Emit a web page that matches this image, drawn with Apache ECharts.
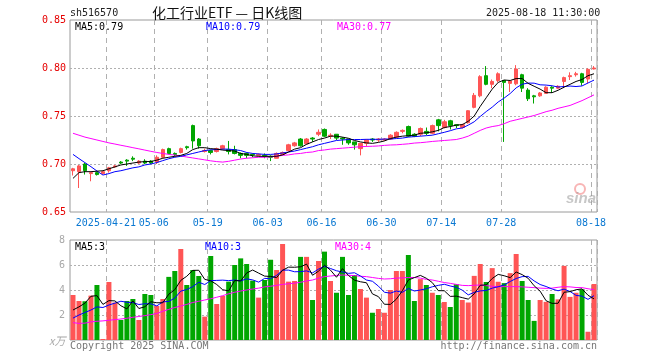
<!DOCTYPE html>
<html><head><meta charset="utf-8">
<script src="https://cdn.jsdelivr.net/npm/echarts@6/dist/echarts.min.js"></script>
<style>html,body{margin:0;padding:0;background:#fff}#c{width:660px;height:360px}</style>
</head><body><div id="c"></div>
<script>
const dates = [
'2025-04-11','2025-04-14','2025-04-15','2025-04-16','2025-04-17','2025-04-18','2025-04-21','2025-04-22','2025-04-23','2025-04-24',
'2025-04-25','2025-04-28','2025-04-29','2025-04-30','2025-05-06','2025-05-07','2025-05-08','2025-05-09','2025-05-12','2025-05-13',
'2025-05-14','2025-05-15','2025-05-16','2025-05-19','2025-05-20','2025-05-21','2025-05-22','2025-05-23','2025-05-26','2025-05-27',
'2025-05-28','2025-05-29','2025-05-30','2025-06-03','2025-06-04','2025-06-05','2025-06-06','2025-06-09','2025-06-10','2025-06-11',
'2025-06-12','2025-06-13','2025-06-16','2025-06-17','2025-06-18','2025-06-19','2025-06-20','2025-06-23','2025-06-24','2025-06-25',
'2025-06-26','2025-06-27','2025-06-30','2025-07-01','2025-07-02','2025-07-03','2025-07-04','2025-07-07','2025-07-08','2025-07-09',
'2025-07-10','2025-07-11','2025-07-14','2025-07-15','2025-07-16','2025-07-17','2025-07-18','2025-07-21','2025-07-22','2025-07-23',
'2025-07-24','2025-07-25','2025-07-28','2025-07-29','2025-07-30','2025-07-31','2025-08-01','2025-08-04','2025-08-05','2025-08-06',
'2025-08-07','2025-08-08','2025-08-11','2025-08-12','2025-08-13','2025-08-14','2025-08-15','2025-08-18'];

const opens = [
0.693,0.692,0.700,0.690,0.691,0.690,0.693,0.697,0.702,0.704,
0.706,0.701,0.703,0.703,0.702,0.707,0.716,0.711,0.712,0.718,
0.740,0.726,0.713,0.714,0.713,0.716,0.715,0.715,0.711,0.711,
0.710,0.709,0.709,0.708,0.706,0.710,0.714,0.719,0.726,0.721,
0.727,0.731,0.736,0.729,0.731,0.727,0.726,0.723,0.716,0.7215,
0.726,0.725,0.725,0.726,0.728,0.734,0.739,0.731,0.731,0.734,
0.732,0.746,0.738,0.745,0.741,0.738,0.743,0.759,0.771,0.792,
0.783,0.787,0.787,0.784,0.7835,0.793,0.777,0.771,0.771,0.7736,
0.780,0.779,0.786,0.791,0.793,0.794,0.7885,0.799];
const closes = [
0.695,0.698,0.693,0.691,0.689,0.692,0.696,0.698,0.701,0.703,
0.705,0.703,0.701,0.701,0.707,0.715,0.711,0.710,0.716,0.717,
0.724,0.719,0.714,0.712,0.716,0.719,0.713,0.711,0.709,0.709,
0.7095,0.710,0.708,0.707,0.711,0.712,0.720,0.722,0.719,0.726,
0.726,0.733,0.729,0.730,0.727,0.726,0.722,0.720,0.7215,0.725,
0.725,0.726,0.726,0.730,0.733,0.735,0.729,0.729,0.737,0.732,
0.740,0.740,0.744,0.740,0.740,0.741,0.7555,0.7715,0.791,0.783,
0.786,0.794,0.785,0.7865,0.799,0.779,0.768,0.770,0.774,0.780,
0.779,0.781,0.790,0.792,0.794,0.785,0.7986,0.800];
const lows = [
0.688,0.675,0.689,0.682,0.688,0.689,0.691,0.696,0.700,0.698,
0.703,0.700,0.700,0.700,0.700,0.706,0.710,0.708,0.711,0.715,
0.716,0.716,0.712,0.710,0.712,0.715,0.710,0.710,0.706,0.706,
0.707,0.708,0.706,0.703,0.706,0.709,0.713,0.718,0.718,0.720,
0.723,0.729,0.728,0.726,0.725,0.720,0.720,0.715,0.709,0.718,
0.723,0.723,0.724,0.725,0.727,0.732,0.728,0.728,0.729,0.730,
0.731,0.734,0.737,0.736,0.7375,0.737,0.742,0.758,0.7695,0.782,
0.779,0.785,0.723,0.775,0.782,0.775,0.7656,0.763,0.770,0.773,
0.774,0.778,0.779,0.7875,0.791,0.7816,0.784,0.7985];
const highs = [
0.696,0.699,0.701,0.691,0.692,0.693,0.697,0.699,0.703,0.705,
0.708,0.704,0.705,0.704,0.709,0.716,0.717,0.712,0.717,0.719,
0.741,0.727,0.716,0.715,0.717,0.720,0.724,0.719,0.712,0.712,
0.711,0.711,0.711,0.709,0.712,0.713,0.721,0.723,0.727,0.727,
0.728,0.736,0.737,0.732,0.731,0.728,0.726,0.723,0.722,0.726,
0.727,0.727,0.727,0.731,0.734,0.736,0.740,0.732,0.738,0.738,
0.741,0.747,0.746,0.746,0.741,0.742,0.756,0.774,0.7925,0.802,
0.788,0.7955,0.787,0.787,0.803,0.794,0.779,0.772,0.775,0.781,
0.781,0.782,0.791,0.7955,0.796,0.795,0.7997,0.802];

const ma5 = [
0.685,0.691,0.692,0.692,0.6925,0.693,0.695,0.697,0.699,0.700,
0.701,0.702,0.7025,0.7026,0.704,0.706,0.707,0.708,0.709,0.711,
0.715,0.717,0.717,0.716,0.7155,0.7145,0.714,0.7135,0.711,0.710,
0.7085,0.708,0.708,0.708,0.708,0.7095,0.7125,0.7155,0.717,0.7205,
0.723,0.7255,0.727,0.729,0.729,0.728,0.7268,0.7245,0.723,0.722,
0.7215,0.7225,0.724,0.7265,0.728,0.729,0.7295,0.730,0.732,0.7325,
0.7335,0.735,0.738,0.739,0.7405,0.741,0.7445,0.750,0.760,0.769,
0.778,0.785,0.7875,0.787,0.789,0.789,0.784,0.781,0.778,0.7743,
0.7743,0.7768,0.780,0.783,0.786,0.788,0.792,0.794];
const ma10 = [
0.710,0.7056,0.7014,0.6972,0.6927,0.6885,0.690,0.692,0.693,0.6945,
0.696,0.697,0.699,0.700,0.7015,0.7035,0.7055,0.707,0.708,0.7095,
0.711,0.7125,0.714,0.7148,0.715,0.7155,0.7155,0.7148,0.714,0.712,
0.711,0.7105,0.710,0.710,0.7105,0.7115,0.7125,0.7135,0.715,0.7165,
0.718,0.720,0.7215,0.723,0.7245,0.725,0.7255,0.7255,0.7255,0.7257,
0.7257,0.7257,0.726,0.726,0.7265,0.727,0.728,0.7285,0.729,0.7295,
0.730,0.7315,0.733,0.7347,0.7366,0.7375,0.7405,0.744,0.7495,0.7546,
0.7592,0.7646,0.7687,0.7734,0.7793,0.7831,0.7843,0.7842,0.7825,0.7822,
0.7815,0.7802,0.7807,0.7812,0.7807,0.7813,0.7844,0.7874];
const ma30 = [
0.732,0.730,0.728,0.7265,0.725,0.7235,0.722,0.7208,0.7195,0.7183,
0.717,0.7158,0.7145,0.7132,0.712,0.711,0.710,0.7093,0.7083,0.7073,
0.7063,0.7053,0.7043,0.7033,0.7025,0.702,0.7028,0.704,0.7052,0.706,
0.7065,0.707,0.707,0.7075,0.708,0.709,0.7095,0.7105,0.711,0.712,
0.7125,0.714,0.7146,0.7155,0.716,0.7165,0.717,0.7175,0.718,0.7183,
0.7185,0.7188,0.7194,0.7198,0.720,0.7205,0.721,0.7218,0.7222,0.7228,
0.7235,0.724,0.7245,0.725,0.7255,0.727,0.729,0.732,0.735,0.7375,
0.739,0.740,0.742,0.7445,0.746,0.7475,0.749,0.7505,0.7525,0.7545,
0.756,0.758,0.7595,0.761,0.7635,0.766,0.769,0.772];

const volumes = [
3.6,3.12,3.1,3.55,4.4,0.08,4.64,3.0,1.6,3.12,
3.28,1.6,3.68,3.6,2.72,3.28,5.05,5.52,7.28,4.4,
5.6,5.12,1.87,6.72,2.88,3.52,4.67,6.0,6.53,6.08,
4.75,3.39,4.8,6.42,5.6,7.68,4.67,4.72,6.65,6.65,
3.2,6.32,7.07,4.72,3.78,6.65,3.6,5.2,4.08,3.39,
2.18,2.48,2.18,4.0,5.52,5.52,6.8,3.12,4.87,4.4,
3.78,3.6,3.04,2.64,4.47,3.2,3.0,5.13,6.08,4.64,
5.75,4.66,4.55,5.35,6.88,4.72,3.2,1.53,3.2,3.05,
3.68,3.25,5.93,3.45,3.78,4.06,0.66,4.48];
const volMa5 = [
2.4,2.65,2.95,3.5,3.55,2.85,3.15,3.13,2.74,2.49,
3.13,2.52,2.66,3.06,2.98,2.98,3.67,4.03,4.77,5.1,
5.57,5.58,4.85,4.74,4.44,4.02,3.93,4.76,4.72,5.36,
5.6,5.35,5.11,5.09,4.99,5.58,5.83,5.82,5.86,6.07,
5.18,5.51,5.98,5.59,5.02,5.71,5.16,4.79,4.66,4.58,
3.69,3.47,2.86,2.85,3.27,3.94,4.8,4.99,5.17,4.94,
4.59,3.95,3.94,3.49,3.51,3.39,3.27,3.69,4.38,4.41,
4.92,5.25,5.14,4.99,5.44,5.23,4.94,4.34,3.91,3.14,
2.93,2.94,3.82,3.87,4.02,4.09,3.58,3.29];
const volMa10 = [
1.75,2.0,2.2,2.4,2.65,2.6,2.8,2.95,3.1,3.02,
2.99,2.84,2.90,2.90,2.73,3.05,3.09,3.35,3.91,4.04,
4.27,4.62,4.44,4.75,4.77,4.79,4.75,4.80,4.73,4.89,
4.81,4.63,4.93,4.90,5.17,5.59,5.59,5.46,5.47,5.53,
5.37,5.67,5.89,5.72,5.54,5.44,5.33,5.38,5.12,4.80,
4.70,4.31,3.82,3.75,3.92,3.81,4.13,3.92,4.00,4.10,
4.26,4.37,4.46,4.32,4.22,3.99,3.61,3.81,3.93,3.96,
4.15,4.26,4.41,4.68,4.92,5.07,5.09,4.73,4.44,4.28,
4.08,3.94,4.07,3.88,3.57,3.51,3.25,3.55];
const volMa30 = [
1.39,1.33,1.35,1.45,1.5,1.53,1.58,1.63,1.68,1.74,
1.82,1.88,1.95,2.03,2.12,2.3,2.45,2.6,2.72,2.85,
3.0,3.1,3.2,3.3,3.42,3.55,3.7,3.82,3.92,4.0,
4.08,4.15,4.25,4.3,4.37,4.45,4.5,4.55,4.62,4.72,
4.8,4.95,5.07,5.12,5.17,5.2,5.18,5.15,5.1,5.07,
5.0,4.93,4.88,4.9,4.95,4.97,5.0,5.0,4.95,4.85,
4.8,4.7,4.6,4.53,4.45,4.37,4.35,4.38,4.4,4.35,
4.3,4.27,4.27,4.27,4.27,4.25,4.22,4.19,4.15,4.13,
4.15,4.22,4.27,4.25,4.2,4.19,4.1,4.03];

const tickDates = ['2025-04-21','2025-05-06','2025-05-19','2025-06-03','2025-06-16','2025-06-30','2025-07-14','2025-07-28','2025-08-18'];
const tickLabels = ['2025-04-21','05-06','05-19','06-03','06-16','06-30','07-14','07-28','08-18'];
const priceTicks = [0.65, 0.70, 0.75, 0.80, 0.85];
const volTicks = [0, 2, 4, 6, 8];

const UP = '#ff5555', DOWN = '#00a600';
const MONO = '"DejaVu Sans Mono", monospace';
const tickIdx = tickDates.map(d => dates.indexOf(d));
const labelOf = {};
tickDates.forEach((d, k) => { labelOf[d] = tickLabels[k]; });
const isTick = (i) => tickIdx.indexOf(i) >= 0;

const candleData = dates.map((d, i) => [opens[i], closes[i], lows[i], highs[i]]);
const volData = volumes.map((v, i) => ({
  value: v,
  itemStyle: { color: closes[i] >= opens[i] ? UP : DOWN }
}));

const gridCommon = { left: 70, width: 527, show: true, borderColor: '#9a9a9a', borderWidth: 1, backgroundColor: 'transparent' };
const vSplit = { show: true, interval: (i) => isTick(i), lineStyle: { color: '#b0b0b0', type: [5, 4], width: 1 } };

function line(name, data, color, xi, yi) {
  return { name, type: 'line', data, xAxisIndex: xi, yAxisIndex: yi, showSymbol: false, symbol: 'none',
    silent: true, z: 5, lineStyle: { color, width: 1 }, itemStyle: { color } };
}
function txt(x, y, text, color, extra) {
  return Object.assign({ type: 'text', x, y, style: Object.assign({ text, fill: color, font: '10px ' + MONO, textVerticalAlign: 'middle' }, extra || {}) , z: 100 });
}

const chart = echarts.init(document.getElementById('c'), null, { renderer: 'canvas' });
chart.setOption({
  animation: false,
  backgroundColor: '#fff',
  grid: [
    Object.assign({ top: 20, height: 192 }, gridCommon),
    Object.assign({ top: 240, height: 100 }, gridCommon)
  ],
  xAxis: [
    { type: 'category', gridIndex: 0, data: dates, boundaryGap: true,
      axisLine: { show: false }, axisTick: { show: false },
      axisLabel: { interval: (i) => isTick(i), formatter: (v) => labelOf[v] || '', color: '#0a78d2',
        fontFamily: MONO, fontSize: 10, margin: 6, padding: [0, 6, 0, 0] },
      splitLine: vSplit },
    { type: 'category', gridIndex: 1, data: dates, boundaryGap: true,
      axisLine: { show: false }, axisTick: { show: false }, axisLabel: { show: false },
      splitLine: vSplit }
  ],
  yAxis: [
    { type: 'value', gridIndex: 0, min: priceTicks[0], max: priceTicks[priceTicks.length - 1], interval: 0.05,
      axisLine: { show: false }, axisTick: { show: false },
      axisLabel: { color: '#e60000', fontFamily: MONO, fontSize: 10, margin: 4, formatter: (v) => v.toFixed(2) },
      splitLine: { show: true, showMinLine: false, showMaxLine: false, lineStyle: { color: '#b0b0b0', type: [2, 2] } } },
    { type: 'value', gridIndex: 1, min: volTicks[0], max: volTicks[volTicks.length - 1], interval: 2,
      axisLine: { show: false }, axisTick: { show: false },
      axisLabel: { color: '#a8a8a8', fontFamily: MONO, fontSize: 10, margin: 5, formatter: (v) => v === 0 ? '' : String(v) },
      splitLine: { show: true, showMinLine: false, showMaxLine: false, lineStyle: { color: '#b0b0b0', type: [2, 2] } } }
  ],
  series: [
    { name: 'K', type: 'candlestick', xAxisIndex: 0, yAxisIndex: 0, data: candleData, barWidth: 4, silent: true, z: 3,
      itemStyle: { color: UP, color0: DOWN, borderColor: UP, borderColor0: DOWN, borderWidth: 1 } },
    line('MA30', ma30, '#ff00ff', 0, 0),
    line('MA10', ma10, '#0000ff', 0, 0),
    line('MA5', ma5, '#000000', 0, 0),
    { name: 'VOL', type: 'bar', xAxisIndex: 1, yAxisIndex: 1, data: volData, barWidth: 5, silent: true, z: 3 },
    line('VMA30', volMa30, '#ff00ff', 1, 1),
    line('VMA10', volMa10, '#0000ff', 1, 1),
    line('VMA5', volMa5, '#000000', 1, 1)
  ],
  graphic: [
    txt(70, 13, 'sh516570', '#222'),
    { type: 'text', x: 152, y: 13, z: 100, style: { text: '化工行业ETF — 日K线图', fill: '#111', font: '14px "Noto Sans CJK SC", sans-serif', textVerticalAlign: 'middle' } },
    txt(486, 13, '2025-08-18 11:30:00', '#222'),
    txt(75, 27, 'MA5:0.79', '#000'),
    txt(206, 27, 'MA10:0.79', '#0000ff'),
    txt(337, 27, 'MA30:0.77', '#ff00ff'),
    txt(75, 247, 'MA5:3', '#000'),
    txt(205, 247, 'MA10:3', '#0000ff'),
    txt(335, 247, 'MA30:4', '#ff00ff'),
    { type: 'text', x: 49, y: 341, z: 100, style: { text: 'x万', fill: '#aaa', font: 'italic 11px "Noto Sans CJK SC", sans-serif', textVerticalAlign: 'middle' } },
    txt(70, 346, 'Copyright 2025 SINA.COM', '#777'),
    txt(597, 346, 'http://finance.sina.com.cn', '#777', { textAlign: 'right' }),
    { type: 'circle', shape: { cx: 580, cy: 189, r: 5 }, style: { fill: 'none', stroke: 'rgba(240,90,90,0.45)', lineWidth: 2 }, z: 2 },
    { type: 'text', x: 566, y: 199, z: 2, style: { text: 'sina', fill: 'rgba(130,130,130,0.45)', font: 'italic bold 15px sans-serif', textVerticalAlign: 'middle' } }
  ]
});
</script></body></html>
